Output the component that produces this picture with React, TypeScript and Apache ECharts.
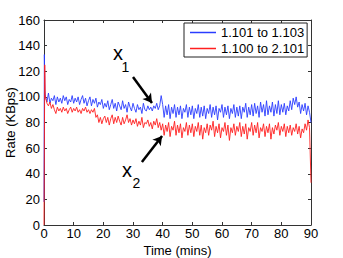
import React, { useEffect, useRef } from 'react';
import * as echarts from 'echarts';

const FONT = '"Liberation Sans", Arial, Helvetica, sans-serif';

const seriesNames = ['1.101 to 1.103', '1.100 to 2.101'];

// initial spike (time in mins, rate in KBps)
const blueStartTimes = [0, 0.12, 0.3];
const blueStartValues = [18, 133, 105];
const redStartTimes = [0, 0.25, 0.4];
const redStartValues = [0, 125, 102];

// samples every 0.5 min from t = 0.5 to t = 90
const blueValues = [
  100, 96, 103, 95, 99, 97, 101, 94, 100, 96,
  99, 95, 101, 97, 100, 94, 98, 96, 101, 95,
  99, 96, 100, 94, 98, 101, 95, 99, 93, 97,
  100, 93, 98, 95, 99, 92, 96, 94, 98, 91,
  95, 92, 97, 90, 94, 98, 91, 95, 89, 96,
  93, 90, 97, 91, 94, 88, 96, 92, 89, 95,
  91, 88, 94, 90, 92, 87, 95, 90, 89, 93,
  90, 92, 89, 93, 91, 95, 90, 93, 101, 94,
  84, 93, 86, 94, 83, 92, 87, 94, 84, 92,
  86, 93, 83, 91, 88, 94, 84, 92, 86, 93,
  83, 91, 87, 94, 84, 92, 85, 93, 83, 91,
  87, 94, 84, 92, 86, 93, 82, 91, 88, 94,
  84, 92, 86, 93, 83, 91, 87, 94, 84, 92,
  85, 93, 83, 92, 88, 95, 84, 92, 86, 94,
  85, 95, 87, 93, 84, 96, 88, 94, 85, 97,
  86, 93, 88, 96, 85, 94, 87, 97, 86, 94,
  88, 95, 86, 93, 89, 97, 90, 99, 94, 100,
  92, 96, 87, 94, 89, 95, 86, 93, 88, 80,
];

const redValues = [
  100, 95, 93, 96, 91, 94, 90, 87, 92, 89,
  91, 88, 92, 89, 91, 87, 90, 92, 88, 91,
  89, 92, 88, 90, 87, 91, 89, 92, 88, 90,
  87, 90, 88, 91, 84, 86, 80, 84, 79, 83,
  85, 80, 84, 78, 83, 86, 79, 84, 80, 85,
  81, 78, 84, 79, 82, 86, 80, 83, 78, 82,
  79, 83, 77, 81, 78, 84, 76, 80, 79, 82,
  77, 80, 75, 81, 78, 83, 76, 80, 74, 79,
  70, 78, 73, 80, 69, 77, 74, 81, 70, 78,
  72, 79, 68, 76, 73, 80, 70, 78, 72, 79,
  69, 77, 73, 80, 70, 78, 67, 76, 72, 79,
  70, 78, 74, 81, 69, 77, 72, 79, 68, 76,
  73, 80, 70, 78, 66, 76, 72, 79, 70, 77,
  73, 80, 69, 77, 71, 79, 67, 76, 73, 80,
  70, 78, 72, 80, 68, 76, 73, 79, 69, 77,
  72, 79, 67, 76, 71, 78, 74, 80, 70, 77,
  73, 79, 69, 77, 72, 78, 70, 76, 73, 79,
  71, 77, 68, 75, 72, 79, 74, 82, 76, 33,
];

const sampleStep = 0.5;

// annotation arrows, [time, rate] from -> to
const arrow1 = [[30.0, 115.5], [36.4, 95.2]];
const arrow2 = [[33.0, 49.2], [39.8, 69.5]];

function buildData(startT: number[], startV: number[], vals: number[]) {
  const out: number[][] = [];
  startT.forEach((t, i) => out.push([t, startV[i]]));
  vals.forEach((v, i) => out.push([(i + 1) * sampleStep, v]));
  return out;
}

const axisColor = '#333';

export default function App() {
  const ref = useRef<HTMLDivElement>(null);
  useEffect(() => {
    if (!ref.current) return;
    const chart = echarts.init(ref.current, undefined, { renderer: 'svg' });
    const baseX = {
      type: 'value' as const,
      min: 0,
      max: 90,
      interval: 10,
      splitLine: { show: false },
      axisLine: { show: true, onZero: false, lineStyle: { color: axisColor, width: 1 } },
      axisTick: { show: true, inside: true, length: 3, lineStyle: { color: axisColor } },
    };
    const baseY = {
      type: 'value' as const,
      min: 0,
      max: 160,
      interval: 20,
      splitLine: { show: false },
      axisLine: { show: true, onZero: false, lineStyle: { color: axisColor, width: 1 } },
      axisTick: { show: true, inside: true, length: 3, lineStyle: { color: axisColor } },
    };
    chart.setOption({
      animation: false,
      textStyle: { fontFamily: FONT },
      grid: { left: 44, right: 32, top: 20, bottom: 33, containLabel: false, outerBoundsMode: 'none' },
      xAxis: [
        {
          ...baseX,
          position: 'bottom',
          axisLabel: { fontSize: 13, color: '#000', margin: 2, fontFamily: FONT },
          name: 'Time (mins)',
          nameLocation: 'middle',
          nameGap: 19,
          nameMoveOverlap: false,
          nameTextStyle: { fontSize: 13, color: '#000', fontFamily: FONT },
        },
        { ...baseX, position: 'top', axisLabel: { show: false } },
      ],
      yAxis: [
        {
          ...baseY,
          position: 'left',
          axisLabel: { fontSize: 13, color: '#000', margin: 4, fontFamily: FONT },
          name: 'Rate (KBps)',
          nameLocation: 'middle',
          nameGap: 27,
          nameMoveOverlap: false,
          nameTextStyle: { fontSize: 13, color: '#000', fontFamily: FONT },
        },
        { ...baseY, position: 'right', axisLabel: { show: false } },
      ],
      legend: {
        orient: 'vertical',
        left: 184,
        top: 23,
        backgroundColor: '#fff',
        borderColor: '#222',
        borderWidth: 1,
        borderRadius: 0,
        padding: [3, 3, 2, 6],
        itemGap: 3,
        itemWidth: 26,
        itemHeight: 1.5,
        icon: 'rect',
        textStyle: { fontSize: 13, color: '#000', fontFamily: FONT },
        data: seriesNames,
      },
      series: [
        {
          name: seriesNames[0],
          type: 'line',
          xAxisIndex: 0,
          yAxisIndex: 0,
          showSymbol: false,
          symbol: 'none',
          color: '#2a3cff',
          lineStyle: { width: 0.9, color: '#2a3cff' },
          data: buildData(blueStartTimes, blueStartValues, blueValues),
          z: 2,
        },
        {
          name: seriesNames[1],
          type: 'line',
          xAxisIndex: 0,
          yAxisIndex: 0,
          showSymbol: false,
          symbol: 'none',
          color: '#ff1f1f',
          lineStyle: { width: 0.9, color: '#ff1f1f' },
          data: buildData(redStartTimes, redStartValues, redValues),
          z: 3,
          markLine: {
            silent: true,
            symbol: ['none', 'arrow'],
            symbolSize: [8, 9],
            label: { show: false },
            lineStyle: { color: '#000', width: 2.5, type: 'solid' },
            data: [
              [{ coord: arrow1[0] }, { coord: arrow1[1] }],
              [{ coord: arrow2[0] }, { coord: arrow2[1] }],
            ],
          },
        },
      ],
      graphic: [
        { type: 'text', x: 118, y: 53, style: { text: 'x', font: `20px ${FONT}`, fill: '#000', align: 'center', verticalAlign: 'middle' } },
        { type: 'text', x: 125.5, y: 67, style: { text: '1', font: `14px ${FONT}`, fill: '#000', align: 'center', verticalAlign: 'middle' } },
        { type: 'text', x: 127, y: 170, style: { text: 'x', font: `20px ${FONT}`, fill: '#000', align: 'center', verticalAlign: 'middle' } },
        { type: 'text', x: 136.5, y: 183, style: { text: '2', font: `14px ${FONT}`, fill: '#000', align: 'center', verticalAlign: 'middle' } },
      ],
    });
    return () => chart.dispose();
  }, []);
  return (
    <div
      ref={ref}
      style={{ position: 'fixed', left: 0, top: 0, width: 343, height: 258, background: '#fff' }}
    />
  );
}
